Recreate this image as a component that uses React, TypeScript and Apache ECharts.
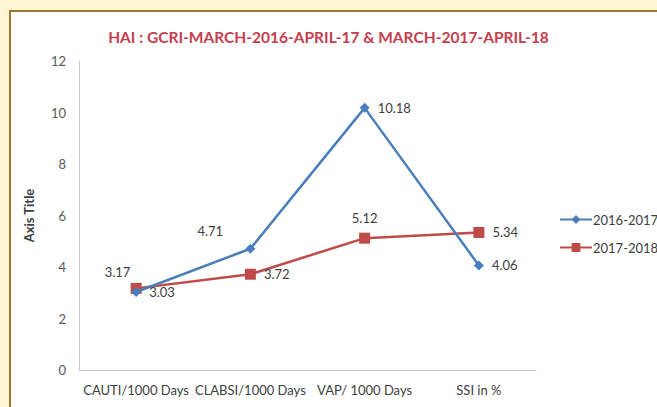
import React, { useEffect, useRef } from "react";
import * as echarts from "echarts";

const categories = ["CAUTI/1000 Days", "CLABSI/1000 Days", "VAP/ 1000 Days", "SSI in %"];
const series2016 = [3.03, 4.71, 10.18, 4.06];
const series2017 = [3.17, 3.72, 5.12, 5.34];
const seriesNames = ["2016-2017", "2017-2018"];
const labelPos2016: any[] = ["right", [-48, -19], "right", "right"];
const labelPos2017: any[] = [[-26, -17], "right", "top", "right"];
const yTicks = { min: 0, max: 12, interval: 2 };
const titleText = "HAI : GCRI-MARCH-2016-APRIL-17 & MARCH-2017-APRIL-18";

export default function App() {
  const ref = useRef<HTMLDivElement>(null);
  useEffect(() => {
    document.body.style.margin = "0";
    const chart = echarts.init(ref.current!, null, { renderer: "svg" });
    const font = "Lato, 'Open Sans', sans-serif";
    const lbl = (pos: any) => ({
      show: true,
      position: pos,
      distance: 8,
      color: "#404040",
      fontSize: 13,
      fontFamily: font,
    });
    chart.setOption({
      animation: false,
      backgroundColor: "transparent",
      title: {
        text: titleText,
        left: "center",
        top: 24,
        textStyle: { color: "#c43e4e", fontSize: 15.5, fontWeight: "bold", fontFamily: font },
      },
      legend: {
        orient: "vertical",
        left: 554,
        top: 208,
        itemWidth: 32,
        itemHeight: 11,
        itemGap: 15,
        textStyle: { color: "#404040", fontSize: 13, fontFamily: font, padding: [0, 0, 0, -4] },
        data: seriesNames,
      },
      grid: { left: 79, right: 121, top: 61, bottom: 37 },
      xAxis: {
        type: "category",
        data: categories,
        boundaryGap: true,
        axisLine: { lineStyle: { color: "#c8c8c8" } },
        axisTick: { show: false },
        axisLabel: { color: "#404040", fontSize: 13, fontFamily: font, margin: 13, interval: 0 },
      },
      yAxis: {
        type: "value",
        min: yTicks.min,
        max: yTicks.max,
        interval: yTicks.interval,
        name: "Axis Title",
        nameLocation: "middle",
        nameGap: 44,
        nameTextStyle: { color: "#404040", fontSize: 13, fontWeight: "bold", fontFamily: font },
        axisLine: { show: true, lineStyle: { color: "#c8c8c8" } },
        axisTick: { show: false },
        splitLine: { show: false },
        axisLabel: { color: "#595959", fontSize: 13, fontFamily: font, margin: 13 },
      },
      series: [
        {
          name: seriesNames[0],
          type: "line",
          symbol: "diamond",
          symbolSize: 10,
          itemStyle: { color: "#4a7ebb" },
          lineStyle: { width: 2.5, color: "#4a7ebb" },
          data: series2016.map((v, i) => ({ value: v, label: lbl(labelPos2016[i]) })),
          z: 3,
        },
        {
          name: seriesNames[1],
          type: "line",
          symbol: "rect",
          symbolSize: 11,
          itemStyle: { color: "#be4b48" },
          lineStyle: { width: 2.5, color: "#be4b48" },
          data: series2017.map((v, i) => ({ value: v, label: lbl(labelPos2017[i]) })),
          z: 2,
        },
      ],
    });
    return () => chart.dispose();
  }, []);
  return (
    <div style={{ position: "fixed", left: 0, top: 0, width: 657, height: 407, background: "#fff7d4", overflow: "hidden" }}>
      <div
        style={{
          position: "absolute",
          left: 9,
          top: 10,
          width: 700,
          height: 450,
          background: "#ffffff",
          borderLeft: "2px solid #9e7632",
          borderTop: "2px solid #9e7632",
        }}
      />
      <div ref={ref} style={{ position: "absolute", left: 0, top: 0, width: 657, height: 407 }} />
    </div>
  );
}
